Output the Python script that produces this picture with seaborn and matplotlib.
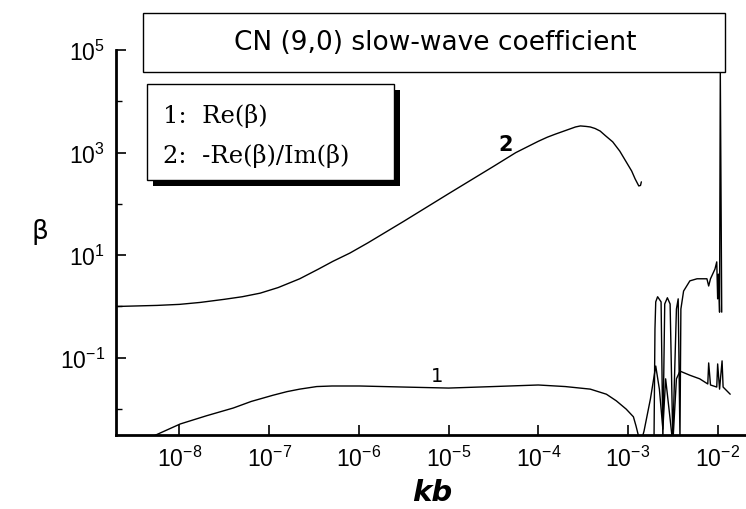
import numpy as np
import pandas as pd
import seaborn as sns
import matplotlib
matplotlib.use("Agg")
import matplotlib.pyplot as plt
from matplotlib.patches import Rectangle
from matplotlib.ticker import FixedLocator, NullFormatter

# Curve 1: Re(beta), smooth branch
kb_re = [4.37e-9, 1.02e-8, 2.0e-8, 3.98e-8, 6.31e-8, 1.10e-7, 1.58e-7, 2.19e-7,
         3.39e-7, 5.01e-7, 1.02e-6, 3.16e-6, 1.0e-5, 3.16e-5, 1.0e-4, 2.0e-4,
         3.80e-4, 5.75e-4, 7.41e-4, 9.55e-4, 1.15e-3, 1.23e-3, 1.38e-3]
beta_re = [2.63e-3, 5.13e-3, 7.41e-3, 1.05e-2, 1.41e-2, 1.86e-2, 2.19e-2, 2.45e-2,
           2.75e-2, 2.82e-2, 2.82e-2, 2.69e-2, 2.57e-2, 2.75e-2, 2.95e-2, 2.75e-2,
           2.45e-2, 1.95e-2, 1.45e-2, 1.0e-2, 7.08e-3, 4.68e-3, 2.09e-3]

# Curve 1: Re(beta), resonant branch near kb ~ 1e-2
kb_re_hi = [1.38e-3, 1.51e-3, 1.78e-3, 2.04e-3, 2.24e-3, 2.45e-3, 2.63e-3, 2.95e-3,
            3.16e-3, 3.47e-3, 3.80e-3, 4.90e-3, 6.31e-3, 7.76e-3, 7.94e-3, 8.32e-3,
            9.77e-3, 1.00e-2, 1.05e-2, 1.12e-2, 1.15e-2, 1.38e-2]
beta_re_hi = [2.09e-3, 3.72e-3, 1.58e-2, 6.92e-2, 2.45e-2, 4.07e-3, 3.89e-2, 6.46e-3,
              2.09e-3, 3.89e-2, 5.50e-2, 4.57e-2, 3.89e-2, 3.09e-2, 7.94e-2, 2.95e-2,
              2.69e-2, 7.59e-2, 2.45e-2, 8.71e-2, 2.69e-2, 1.95e-2]

# Curve 2: -Re(beta)/Im(beta), smooth branch
kb_q = [1.95e-9, 5.62e-9, 1.0e-8, 1.70e-8, 3.16e-8, 5.01e-8, 7.94e-8, 1.26e-7,
        2.19e-7, 3.55e-7, 5.13e-7, 7.94e-7, 1.26e-6, 3.16e-6, 1.0e-5, 3.16e-5,
        5.62e-5, 1.0e-4, 1.26e-4, 1.55e-4, 2.24e-4, 2.60e-4, 2.95e-4, 3.40e-4,
        3.80e-4, 4.30e-4, 4.90e-4, 5.60e-4, 6.76e-4, 8.10e-4, 9.55e-4, 1.10e-3,
        1.20e-3, 1.32e-3, 1.38e-3, 1.41e-3]
beta_q = [1.00, 1.05, 1.10, 1.20, 1.38, 1.55, 1.82, 2.34,
          3.47, 5.37, 7.59, 11.0, 17.4, 45.7, 158, 537,
          1000, 1660, 1995, 2290, 2880, 3160, 3310, 3240,
          3160, 2950, 2630, 2140, 1620, 1070, 661, 437,
          309, 224, 229, 269]

# Curve 2: -Re(beta)/Im(beta), resonant branch
kb_q_hi = [1.95e-3, 2.00e-3, 2.04e-3, 2.14e-3, 2.34e-3, 2.45e-3, 2.57e-3, 2.75e-3,
           2.95e-3, 3.16e-3, 3.47e-3, 3.63e-3, 3.80e-3, 3.89e-3, 4.17e-3, 4.90e-3,
           5.89e-3, 7.59e-3, 7.94e-3, 8.32e-3, 9.33e-3, 9.77e-3, 1.00e-2, 1.02e-2,
           1.05e-2, 1.07e-2, 1.11e-2]
beta_q_hi = [2.09e-3, 0.363, 1.23, 1.55, 1.23, 2.63e-3, 1.12, 1.48,
             1.12, 2.63e-3, 0.891, 1.41, 2.63e-3, 0.891, 2.0, 3.16,
             3.47, 3.47, 2.51, 3.47, 5.37, 7.41, 1.41, 4.27,
             0.776, 42700, 0.776]

x_ticks = [1e-8, 1e-7, 1e-6, 1e-5, 1e-4, 1e-3, 1e-2]
x_tick_labels = [r"$10^{-8}$", r"$10^{-7}$", r"$10^{-6}$", r"$10^{-5}$",
                 r"$10^{-4}$", r"$10^{-3}$", r"$10^{-2}$"]
y_ticks = [1e-1, 1e1, 1e3, 1e5]
y_tick_labels = [r"$10^{-1}$", r"$10^{1}$", r"$10^{3}$", r"$10^{5}$"]
y_minor = [1e-2, 1e0, 1e2, 1e4]

segments = [
    ("re", kb_re, beta_re),
    ("re_hi", kb_re_hi, beta_re_hi),
    ("q", kb_q, beta_q),
    ("q_hi", kb_q_hi, beta_q_hi),
]
df = pd.concat(
    [pd.DataFrame({"kb": k, "beta": b, "segment": name}) for name, k, b in segments],
    ignore_index=True,
)

sns.set_theme(style="ticks")
plt.rcParams["font.family"] = ["DejaVu Sans"]
plt.rcParams["mathtext.fontset"] = "custom"
plt.rcParams["mathtext.rm"] = "Liberation Sans"
plt.rcParams["mathtext.it"] = "Liberation Sans:italic"

W, H = 746, 510
fig = plt.figure(figsize=(W / 100, H / 100), dpi=100)
fig.patch.set_facecolor("white")

def fx(px):
    return px / W

def fy(py):
    return 1 - py / H

ax = fig.add_axes([fx(116), fy(436), fx(746) - fx(116), fy(51) - fy(436)])
ax.set_facecolor("white")

sns.lineplot(data=df, x="kb", y="beta", units="segment", estimator=None,
             sort=False, color="black", linewidth=1.0, ax=ax, legend=False)

ax.set_xscale("log")
ax.set_yscale("log")
ax.set_xlim(1.96e-9, 2.07e-2)
ax.set_ylim(10 ** -2.505, 1e5)

ax.xaxis.set_major_locator(FixedLocator(x_ticks))
ax.set_xticklabels(x_tick_labels)
ax.xaxis.set_minor_locator(FixedLocator([]))
ax.yaxis.set_major_locator(FixedLocator(y_ticks))
ax.set_yticklabels(y_tick_labels)
ax.yaxis.set_minor_locator(FixedLocator(y_minor))
ax.yaxis.set_minor_formatter(NullFormatter())

ax.tick_params(axis="both", which="major", direction="in", length=7, width=1.2,
               color="black", labelsize=16.5, labelcolor="black")
ax.tick_params(axis="x", which="major", pad=8)
ax.tick_params(axis="y", which="major", pad=8)
ax.tick_params(axis="y", which="minor", direction="in", length=4, width=1.0,
               color="black")

for side in ("top", "right"):
    ax.spines[side].set_visible(False)
for side in ("left", "bottom"):
    ax.spines[side].set_color("black")
    ax.spines[side].set_linewidth(2.0)

ax.set_xlabel("kb", fontsize=21, fontweight="bold", fontstyle="italic",
              color="black", va="center")
ax.xaxis.set_label_coords((432 - 116) / 630, -(493 - 436) / 385)
ax.set_ylabel("β", fontsize=19, rotation=0, color="black", va="center",
              ha="center")
ax.yaxis.set_label_coords((40 - 116) / 630, (436 - 232) / 385)

# curve labels
ax.text(7.4e-6, 0.045, "1", fontsize=14, color="black", ha="center", va="center")
ax.text(4.3e-5, 1500, "2", fontsize=15, fontweight="bold", color="black",
        ha="center", va="center")

# title box
fig.patches.append(Rectangle((fx(143), fy(73)), fx(725) - fx(143), fy(14) - fy(73),
                             transform=fig.transFigure, facecolor="white",
                             edgecolor="black", linewidth=1.0, zorder=5))
fig.text(fx(435), fy(43), "CN (9,0) slow-wave coefficient", fontsize=19,
         color="black", ha="center", va="center", zorder=6)

# legend box with drop shadow
fig.patches.append(Rectangle((fx(153), fy(187)), fx(400) - fx(153), fy(91) - fy(187),
                             transform=fig.transFigure, facecolor="black",
                             edgecolor="black", linewidth=0, zorder=5))
fig.patches.append(Rectangle((fx(147), fy(181)), fx(394) - fx(147), fy(85) - fy(181),
                             transform=fig.transFigure, facecolor="white",
                             edgecolor="black", linewidth=1.0, zorder=6))
fig.text(fx(163), fy(116), "1:  Re(β)", fontsize=17.5, family="DejaVu Serif",
         color="black", ha="left", va="center", zorder=7)
fig.text(fx(163), fy(156), "2:  -Re(β)/Im(β)", fontsize=17.5, family="DejaVu Serif",
         color="black", ha="left", va="center", zorder=7)

fig.savefig("out.png", dpi=100, facecolor="white")
